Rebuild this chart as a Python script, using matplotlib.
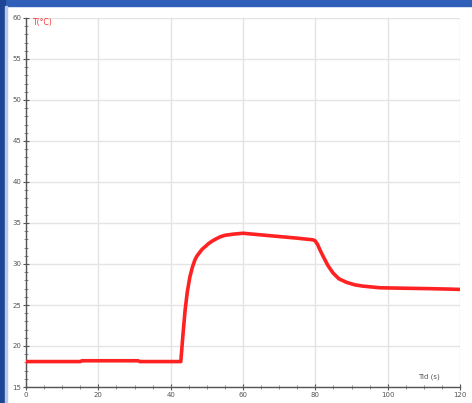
import matplotlib
matplotlib.use("Agg")
import matplotlib.pyplot as plt
from matplotlib.patches import Rectangle
from matplotlib.ticker import MultipleLocator

# temperature log
time_s = [0, 15, 15.5, 31, 31.5, 42.8, 43.4, 44.0, 44.6, 45.3, 46.0, 46.7, 47.3, 48.0,
          48.7, 49.5, 50.5, 51.5, 52.5, 53.6, 55, 57.5, 60, 65, 70, 75, 79.3, 79.9,
          80.6, 81.3, 82.2, 83.5, 84.9, 86.5, 88.7, 91, 93.2, 97.9, 104, 110.8, 116, 120]
temp_c = [18.1, 18.1, 18.2, 18.2, 18.1, 18.1, 21.4, 24.4, 26.6, 28.4, 29.6, 30.5, 31.0, 31.4,
          31.8, 32.1, 32.5, 32.8, 33.05, 33.3, 33.5, 33.65, 33.75, 33.55, 33.35, 33.15, 32.95, 32.85,
          32.4, 31.7, 30.9, 29.8, 28.9, 28.2, 27.75, 27.45, 27.3, 27.1,
          27.05, 27.0, 26.95, 26.9]

W, H = 472, 403
fig = plt.figure(figsize=(W / 100, H / 100), dpi=100, facecolor="white")

# window frame (blue strips on the top and left)
fig.patches.append(Rectangle((0, 1 - 6 / H), 1, 6 / H, transform=fig.transFigure,
                             color="#2f5fb8", zorder=0))
fig.patches.append(Rectangle((0, 0), 5 / W, 1, transform=fig.transFigure,
                             color="#1c4595", zorder=0))
fig.patches.append(Rectangle((5 / W, 0), 2 / W, 1 - 6 / H, transform=fig.transFigure,
                             color="#b8c8e8", zorder=0))

ax = fig.add_axes([26 / W, 16 / H, 434 / W, 369 / H])
ax.set_facecolor("white")
ax.plot(time_s, temp_c, color="#ff2222", lw=2.6, solid_joinstyle="round", zorder=3)

ax.set_xlim(0, 120)
ax.set_ylim(15, 60)
ax.xaxis.set_major_locator(MultipleLocator(20))
ax.xaxis.set_minor_locator(MultipleLocator(5))
ax.yaxis.set_major_locator(MultipleLocator(5))
ax.yaxis.set_minor_locator(MultipleLocator(1))
ax.grid(True, which="major", color="#e4e4e4", lw=1.0)
ax.set_axisbelow(True)

for s in ["top", "right"]:
    ax.spines[s].set_visible(False)
for s in ["left", "bottom"]:
    ax.spines[s].set_color("#555555")
    ax.spines[s].set_linewidth(1.0)

ax.tick_params(which="major", direction="inout", length=5, width=0.8, color="#555555",
               labelsize=5, labelcolor="#555555", pad=1)
ax.tick_params(which="minor", direction="inout", length=3, width=0.6, color="#777777")

ax.text(1.9, 59.4, "T(°C)", color="#ff3333", fontsize=5.5, ha="left", va="center")
ax.text(114.5, 16.3, "Tid (s)", color="#555555", fontsize=5, ha="right", va="center")

fig.savefig("out.png", dpi=100, facecolor=fig.get_facecolor())
